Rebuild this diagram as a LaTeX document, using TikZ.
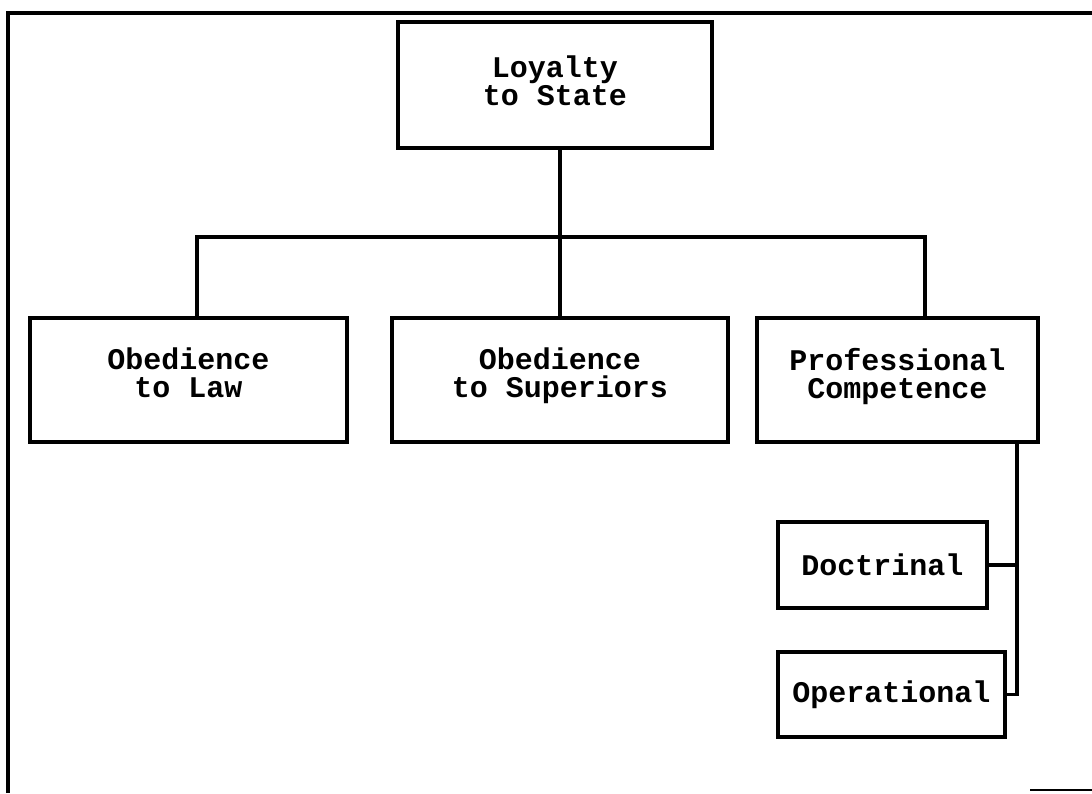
\documentclass[tikz,border=0pt]{standalone}
\usepackage{fontspec}
\setmonofont{Liberation Mono}
\begin{document}
\begin{tikzpicture}[x=1pt,y=-1pt,
  box/.style={draw, line width=3.2pt, inner sep=0pt, align=center,
    font=\ttfamily\bfseries\fontsize{30}{28}\selectfont},
  lifted/.style={text depth=#1},
  conn/.style={line width=3.2pt},
  framel/.style={line width=3.4pt}]
\useasboundingbox (0,0) rectangle (1092,793);
% frame
\draw[framel] (8,793) -- (8,13) -- (1092,13);
\draw[line width=1.6pt] (1030,790) -- (1092,790);
% boxes
\node[box, lifted=8pt, minimum width=314pt, minimum height=126pt] (loyal) at (555,85) {Loyalty\\to State};
\node[box, lifted=14pt, minimum width=317pt, minimum height=124pt] (law) at (188.5,380) {Obedience\\to Law};
\node[box, lifted=14pt, minimum width=336pt, minimum height=124pt] (sup) at (560,380) {Obedience\\to Superiors};
\node[box, lifted=14pt, minimum width=281pt, minimum height=124pt] (prof) at (897.5,380) {Professional\\Competence};
\node[box, minimum width=209pt, minimum height=86pt] (doc) at (882.5,565) {Doctrinal};
\node[box, minimum width=227pt, minimum height=85pt] (op) at (891.5,694.5) {Operational};
% junctions
\coordinate (jl) at (197,237);
\coordinate (jr) at (925,237);
\coordinate (bus) at (1017,442);
% connectors
\draw[conn] (sup.north |- loyal.south) -- (sup.north);
\draw[conn] (jl |- law.north) -- (jl) -- (jr) -- (jr |- prof.north);
\draw[conn] (bus |- prof.south) -- (bus |- op.east) -- (op.east);
\draw[conn] (doc.east) -- (doc.east -| bus);
\end{tikzpicture}
\end{document}
